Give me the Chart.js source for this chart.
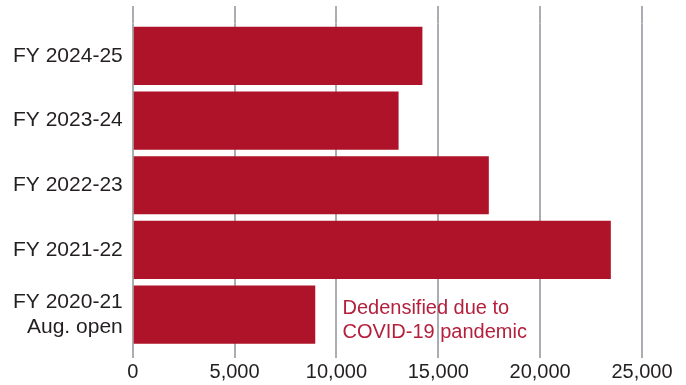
<!DOCTYPE html>
<html>
<head>
<meta charset="utf-8">
<script src="https://cdn.jsdelivr.net/npm/chart.js@4/dist/chart.umd.min.js"></script>
<style>
  html, body { margin: 0; padding: 0; background: #fff; }
  #wrap { width: 686px; height: 385px; position: relative; }
</style>
</head>
<body>
<div id="wrap"><canvas id="seats-chart"></canvas></div>
<script>
// fiscal years, newest on top
const years = [
    'FY 2024-25',
    'FY 2023-24',
    'FY 2022-23',
    'FY 2021-22',
    ['FY 2020-21', 'Aug. open']
];
const seats = [14220, 13050, 17480, 23470, 8960];
const xTicks = [0, 5000, 10000, 15000, 20000, 25000];
const noteLines = ['Dedensified due to', 'COVID-19 pandemic'];

const barRed = '#ae1329';
const gridGrey = '#aaaeb2';

// grid lines run a bit above the bars
const gridAbove = {
    id: 'gridAbove',
    beforeDatasetsDraw(chart) {
        const ctx = chart.ctx;
        const x = chart.scales.x;
        const top = chart.chartArea.top;
        ctx.save();
        ctx.strokeStyle = gridGrey;
        ctx.lineWidth = 2;
        xTicks.forEach(v => {
            const px = Math.round(x.getPixelForValue(v));
            ctx.beginPath();
            ctx.moveTo(px, top - 17.5);
            ctx.lineTo(px, top);
            ctx.stroke();
        });
        ctx.restore();
    }
};

// note next to the 2020-21 bar
const covidNote = {
    id: 'covidNote',
    afterDatasetsDraw(chart) {
        const ctx = chart.ctx;
        const x = chart.scales.x;
        const y = chart.scales.y;
        const left = x.getPixelForValue(10000) + 6;
        const mid = y.getPixelForValue(4);
        ctx.save();
        ctx.fillStyle = '#b41f3b';
        ctx.font = '20px "Liberation Sans", Arial, sans-serif';
        ctx.textBaseline = 'alphabetic';
        ctx.fillText(noteLines[0], left, mid - 1);
        ctx.fillText(noteLines[1], left, mid + 23);
        ctx.restore();
    }
};

new Chart(document.querySelector('#seats-chart').getContext('2d'), {
    type: 'bar',
    data: {
        labels: years,
        datasets: [{
            data: seats,
            backgroundColor: barRed,
            borderWidth: 0,
            categoryPercentage: 1,
            barPercentage: 0.9
        }]
    },
    options: {
        indexAxis: 'y',
        responsive: true,
        maintainAspectRatio: false,
        animation: false,
        layout: { padding: { top: 23.5, left: 3, right: 44, bottom: -1 } },
        plugins: {
            legend: { display: false },
            tooltip: { enabled: false }
        },
        scales: {
            x: {
                min: 0,
                max: 25000,
                afterBuildTicks(scale) {
                    scale.ticks = xTicks.map(v => ({ value: v }));
                },
                // edge labels may hang past the plot; layout padding handles it
                afterFit(scale) {
                    scale.paddingLeft = 0;
                    scale.paddingRight = 0;
                },
                grid: {
                    color: gridGrey,
                    lineWidth: 2,
                    drawTicks: true,
                    tickLength: 11,
                    tickColor: gridGrey
                },
                border: { display: false },
                ticks: {
                    color: '#231f20',
                    padding: 2,
                    maxRotation: 0,
                    font: { family: '"Liberation Sans", Arial, sans-serif', size: 20 },
                    callback: v => v.toLocaleString('en-US')
                }
            },
            y: {
                afterFit(scale) {
                    scale.paddingTop = 0;
                    scale.paddingBottom = 0;
                },
                grid: { display: false, drawTicks: false },
                border: { display: false },
                ticks: {
                    color: '#231f20',
                    padding: 10,
                    font: { family: '"Liberation Sans", Arial, sans-serif', size: 21, lineHeight: 1.15 }
                }
            }
        }
    },
    plugins: [gridAbove, covidNote]
});
</script>
</body>
</html>
